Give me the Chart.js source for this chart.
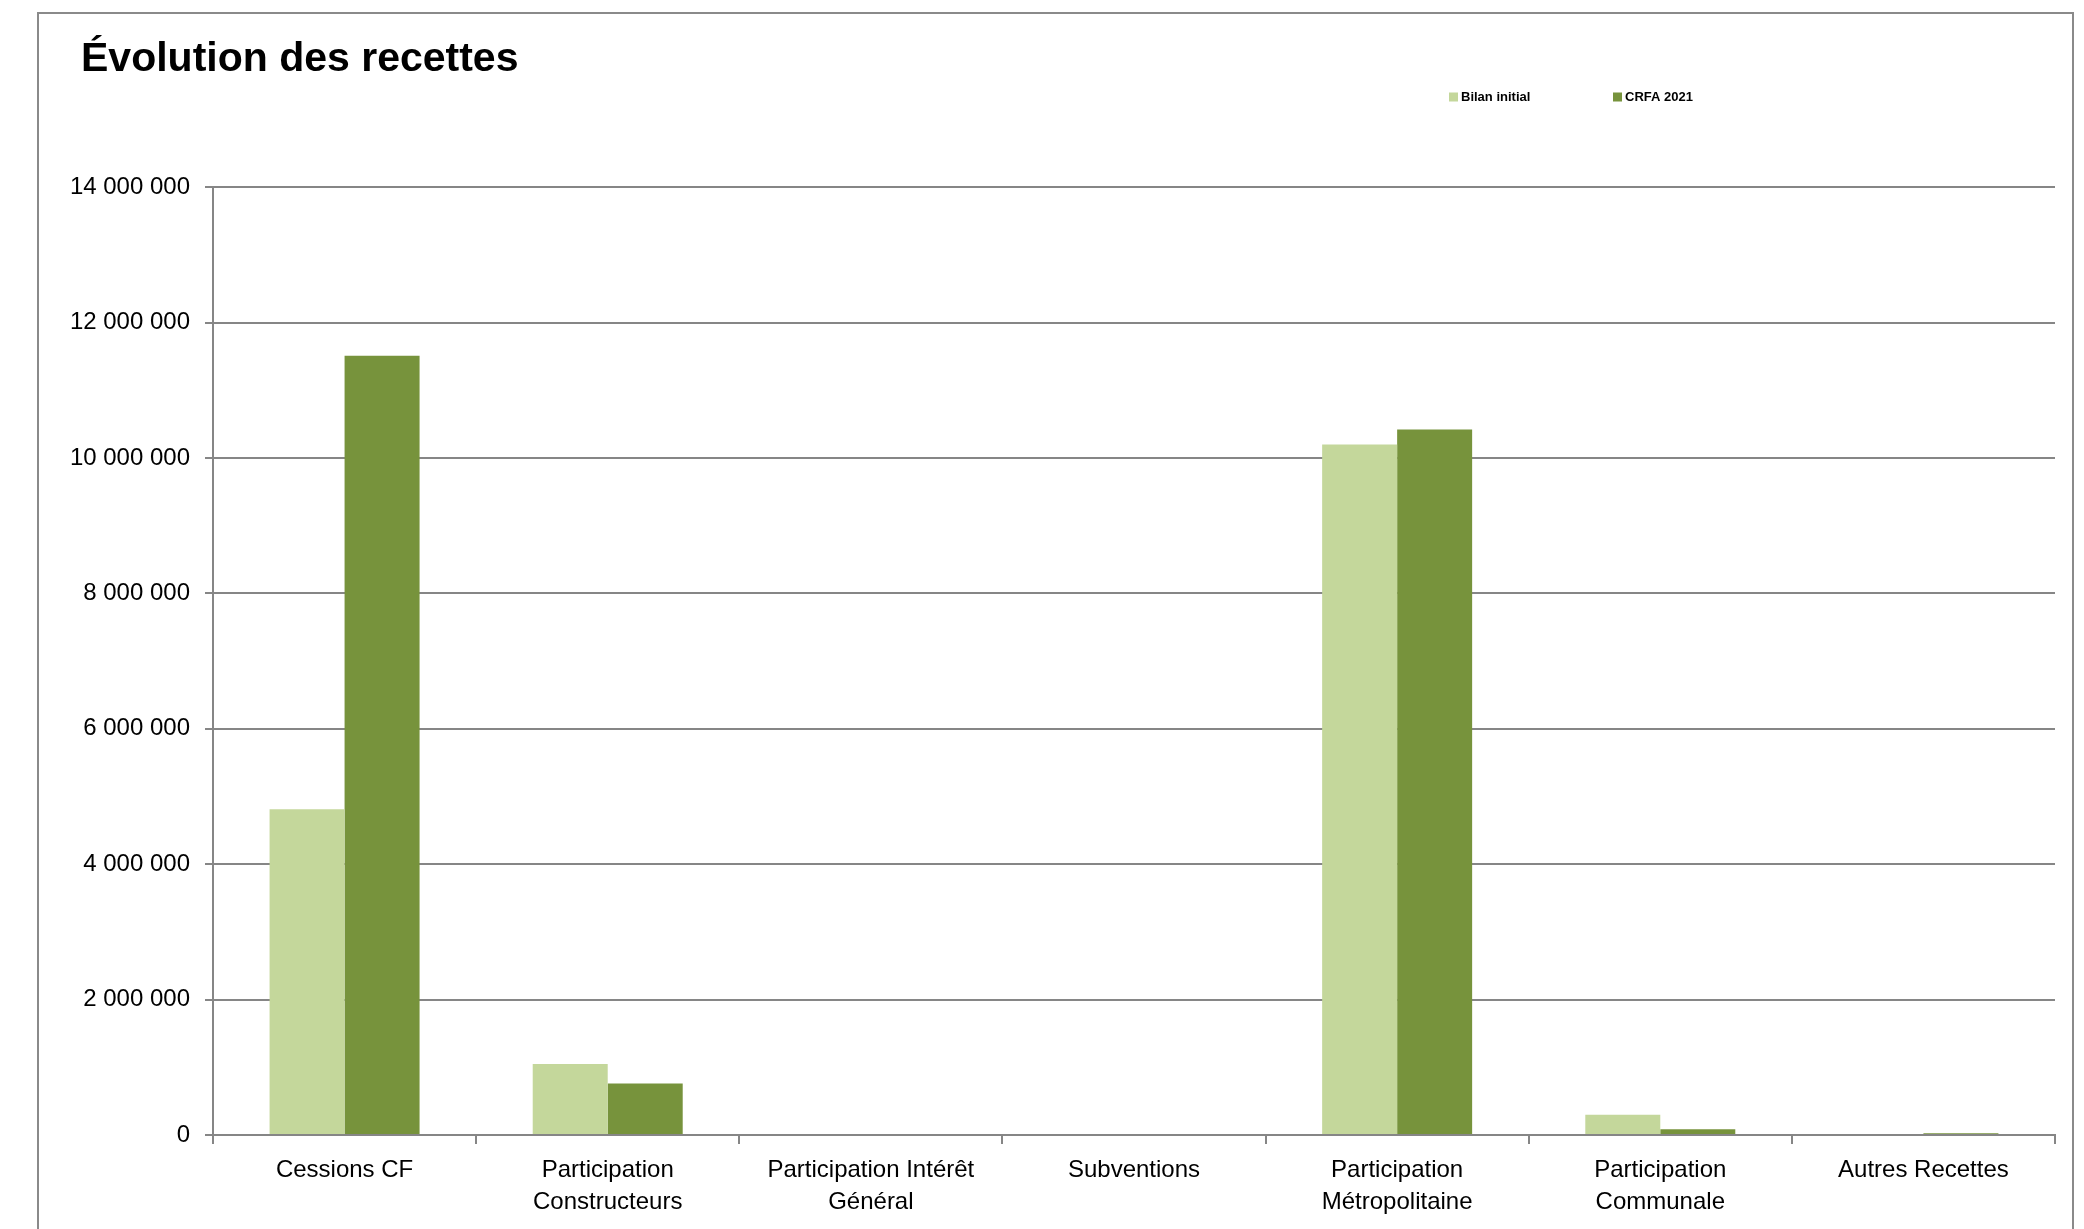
<!DOCTYPE html>
<html lang="fr">
<head>
<meta charset="utf-8">
<title>Évolution des recettes</title>
<script src="https://cdn.jsdelivr.net/npm/chart.js@4"></script>
<style>
  html, body { margin: 0; padding: 0; background: #ffffff; }
  canvas { display: block; }
</style>
</head>
<body>
<canvas id="recettesChart" width="2084" height="1229"></canvas>
<script>
// données
const categories = [
    "Cessions CF",
    ["Participation", "Constructeurs"],
    ["Participation Intérêt", "Général"],
    "Subventions",
    ["Participation", "Métropolitaine"],
    ["Participation", "Communale"],
    "Autres Recettes"
];
const bilanInitial = [4810000, 1050000, 0, 0, 10200000, 300000, 0];
const crfa2021 = [11510000, 760000, 0, 0, 10420000, 85000, 25000];
const yTickValues = [0, 2000000, 4000000, 6000000, 8000000, 10000000, 12000000, 14000000];

const GRID = "#868686";
const FONT = "'Liberation Sans', Arial, sans-serif";

// cadre gris autour du graphique
const framePlugin = {
    id: "frame",
    beforeDraw(chart) {
        const ctx = chart.ctx;
        ctx.save();
        ctx.fillStyle = "#ffffff";
        ctx.fillRect(0, 0, chart.width, chart.height);
        ctx.strokeStyle = "#8a8a8a";
        ctx.lineWidth = 2;
        ctx.strokeRect(38, 13, 2035, 1300);
        ctx.restore();
    },
    // les libellés de l'axe Y débordent à gauche du titre : on élargit la zone de dessin
    afterLayout(chart) {
        chart.scales.y.left = 45;
    }
};

// petite légende en haut à droite
const legendPlugin = {
    id: "miniLegend",
    afterDraw(chart) {
        const ctx = chart.ctx;
        const xs = [1449, 1613];
        const y = 97;
        ctx.save();
        ctx.font = "bold 13px " + FONT;
        ctx.textBaseline = "middle";
        ctx.textAlign = "left";
        chart.data.datasets.forEach((ds, i) => {
            ctx.fillStyle = ds.backgroundColor;
            ctx.fillRect(xs[i], y - 4.5, 9, 9);
            ctx.fillStyle = "#000000";
            ctx.fillText(ds.label, xs[i] + 12, y);
        });
        ctx.restore();
    }
};

new Chart(document.getElementById("recettesChart"), {
    type: "bar",
    data: {
        labels: categories,
        datasets: [
            {
                label: "Bilan initial",
                data: bilanInitial,
                backgroundColor: "#C4D79B"
            },
            {
                label: "CRFA 2021",
                data: crfa2021,
                backgroundColor: "#77933C"
            }
        ]
    },
    options: {
        responsive: false,
        animation: false,
        categoryPercentage: 0.57,
        barPercentage: 1.0,
        layout: {
            padding: { left: 81, right: 29, top: 0, bottom: 0 }
        },
        plugins: {
            legend: { display: false },
            tooltip: { enabled: false },
            title: {
                display: true,
                text: "Évolution des recettes",
                align: "start",
                color: "#000000",
                font: { family: FONT, size: 41, weight: "bold" },
                padding: { top: 35, bottom: 103 }
            }
        },
        scales: {
            x: {
                grid: {
                    drawOnChartArea: false,
                    drawTicks: true,
                    tickLength: 9,
                    color: GRID,
                    lineWidth: 2
                },
                border: { color: GRID, width: 2 },
                ticks: {
                    color: "#000000",
                    font: { family: FONT, size: 24, lineHeight: 1.35 },
                    maxRotation: 0,
                    autoSkip: false,
                    padding: 10
                },
                afterFit(scale) {
                    scale.height = 94;
                }
            },
            y: {
                min: 0,
                max: 14000000,
                afterBuildTicks(scale) {
                    scale.ticks = yTickValues.map(v => ({ value: v }));
                },
                grid: {
                    color: GRID,
                    lineWidth: 2,
                    tickLength: 8
                },
                border: { color: GRID, width: 2 },
                ticks: {
                    color: "#000000",
                    font: { family: FONT, size: 24 },
                    padding: 15,
                    callback: v => String(v).replace(/\B(?=(\d{3})+(?!\d))/g, " ")
                },
                afterFit(scale) {
                    scale.width = 132;
                }
            }
        }
    },
    plugins: [framePlugin, legendPlugin]
});
</script>
</body>
</html>
